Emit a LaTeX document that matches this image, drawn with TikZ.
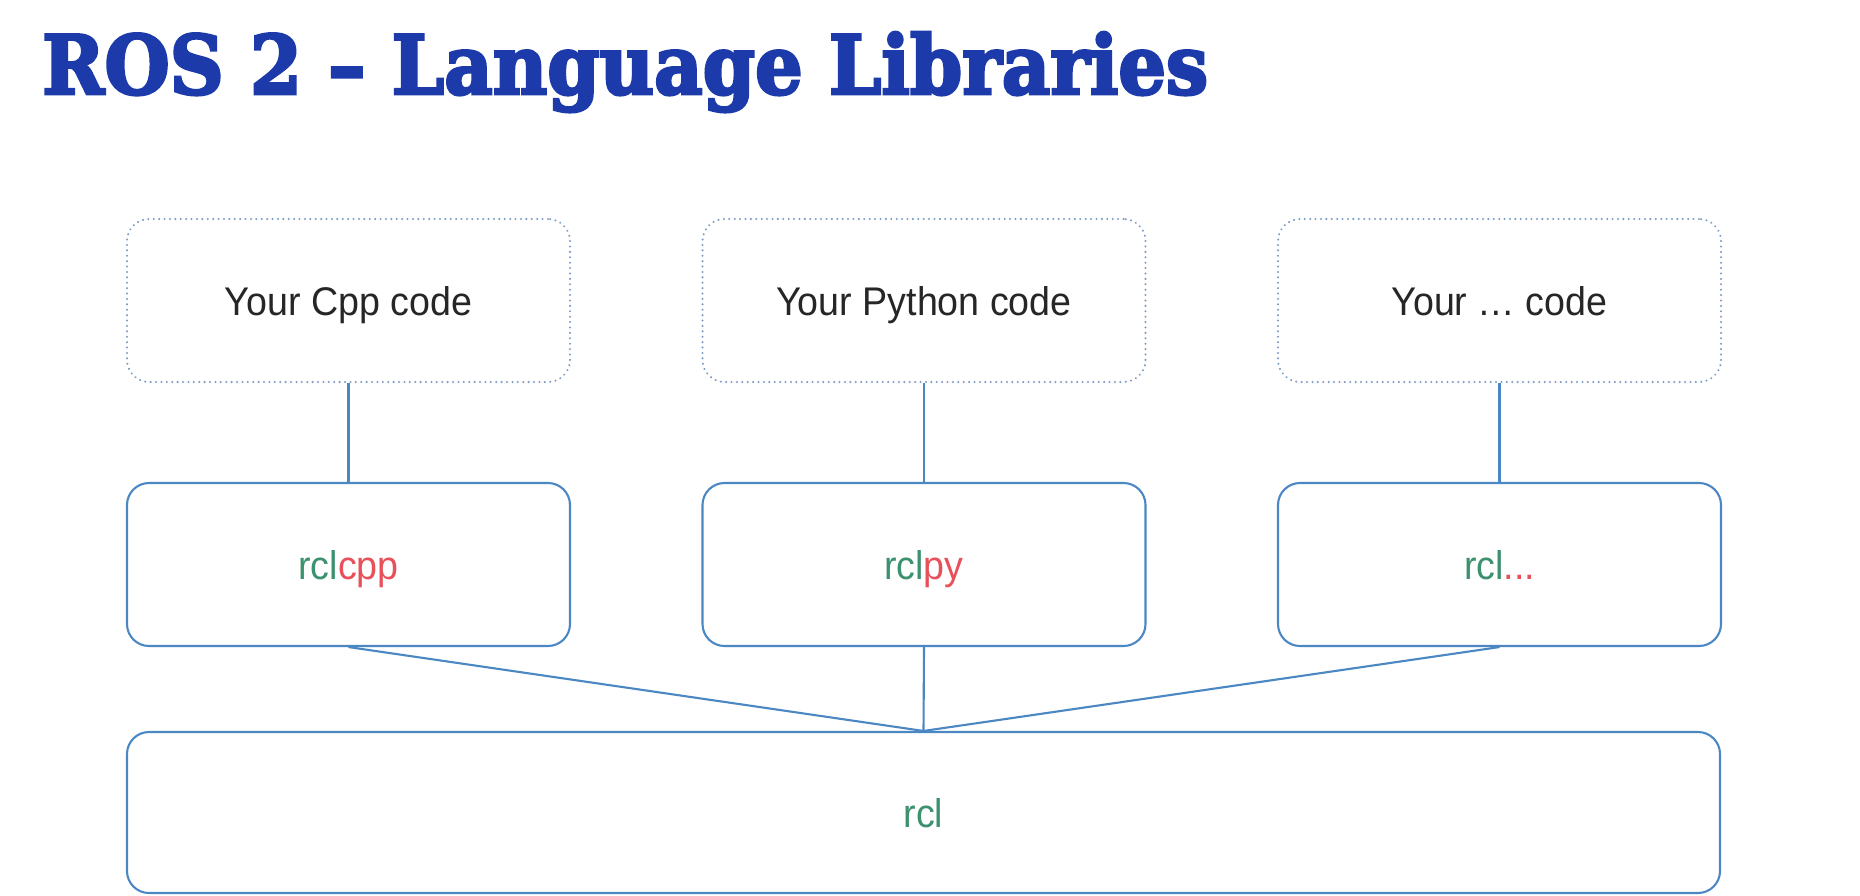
\documentclass[tikz,border=0pt]{standalone}
\usepackage{fontspec}
\usepackage{graphicx}
\setmainfont{Liberation Sans}
\newfontfamily\titlefont{DejaVu Serif Bold}[FakeBold=3.5]
\definecolor{titleblue}{HTML}{1C3AA9}
\definecolor{boxblue}{HTML}{4B87C3}
\definecolor{dotblue}{HTML}{7C9CC4}
\definecolor{txtdark}{HTML}{262626}
\definecolor{rclgreen}{HTML}{3C916E}
\definecolor{rclred}{HTML}{E8505A}
\newcommand{\lbl}[1]{\scalebox{0.94}[1]{#1}}
\tikzset{
  basebox/.style={rectangle, rounded corners=22pt, inner sep=0pt,
    minimum width=443pt, minimum height=163pt,
    text height=29pt, text depth=0pt,
    font=\fontsize{40}{48}\selectfont},
  codebox/.style={basebox, draw=dotblue, line width=2.2pt,
    dash pattern=on 0.1pt off 5.3pt, line cap=round, text=txtdark},
  libbox/.style={basebox, draw=boxblue, line width=2.1pt},
  link/.style={draw=boxblue, line width=2.1pt}
}
\begin{document}
\begin{tikzpicture}[x=1pt, y=-1pt]
\useasboundingbox (0,0) rectangle (1860,895);
\fill[white] (0,0) rectangle (1860,895);

\node[anchor=base west, inner sep=0pt, text=titleblue] (title) at (42,94)
  {\resizebox{1166pt}{62pt}{\titlefont ROS 2 – Language Libraries}};

% top row (user code)
\node[codebox] (code1) at (348.5,300.5) {\lbl{Your Cpp code}};
\node[codebox] (code2) at (924,300.5) {\lbl{Your Python code}};
\node[codebox] (code3) at (1499.5,300.5) {\lbl{Your … code}};

% middle row (client libraries)
\node[libbox] (lib1) at (348.5,564.5) {\lbl{\textcolor{rclgreen}{rcl}\textcolor{rclred}{cpp}}};
\node[libbox] (lib2) at (924,564.5) {\lbl{\textcolor{rclgreen}{rcl}\textcolor{rclred}{py}}};
\node[libbox] (lib3) at (1499.5,564.5) {\lbl{\textcolor{rclgreen}{rcl}\textcolor{rclred}{...}}};

% bottom (rcl)
\node[libbox, minimum width=1593pt, minimum height=161pt] (rcl) at (923.5,812.5)
  {\lbl{\textcolor{rclgreen}{rcl}}};

% connectors
\draw[link] (code1.south) -- (lib1.north);
\draw[link] (code2.south) -- (lib2.north);
\draw[link] (code3.south) -- (lib3.north);
\draw[link] (lib1.south) -- (rcl.north);
\draw[link] (lib2.south) -- (rcl.north);
\draw[link] (lib3.south) -- (rcl.north);
\end{tikzpicture}
\end{document}
